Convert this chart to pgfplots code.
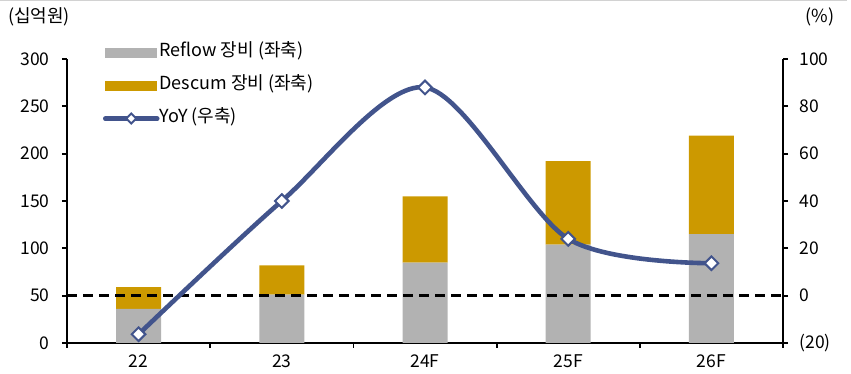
\documentclass[border=0pt]{standalone}
\usepackage{pgfplots}
\pgfplotsset{compat=1.18}
\usepackage{fontspec}
\setmainfont{Noto Sans CJK KR}
\definecolor{reflow}{RGB}{178,178,178}
\definecolor{descum}{RGB}{204,153,0}
\definecolor{yoy}{RGB}{66,84,140}
\begin{document}
\begin{tikzpicture}[font=\fontsize{18}{21}\selectfont]
\pgfplotsset{
  base/.style={
    width=716pt, height=284pt, scale only axis,
    xmin=-0.5, xmax=4.5,
    tick align=outside, major tick length=5pt, minor tick length=5pt,
    every tick/.style={black, line width=1.8pt},
    axis line style={black, line width=2.2pt},
    /pgf/number format/assume math mode=true,
    tick label style={font=\fontsize{17.5}{20}\selectfont},
    xticklabel style={yshift=-3pt},
  }
}
% stacked equipment sales, left axis
\begin{axis}[base,
  ymin=0, ymax=300, ytick={0,50,...,300},
  yticklabel style={xshift=-9pt},
  axis x line*=bottom, axis y line*=left,
  xtick={0,...,4}, xticklabels={22,23,24F,25F,26F},
  major x tick style={draw=none},
  minor xtick={-0.5,0.5,...,4.5},
  ybar stacked, bar width=45pt,
  legend cell align=left,
  legend style={at={(axis description cs:0.05,1.055)}, anchor=north west,
    draw=none, fill=none, inner sep=0pt, row sep=15pt,
    nodes={inner sep=0pt, text height=13pt, text depth=5pt, anchor=west},
    /tikz/every even column/.append style={column sep=5pt}},
]
\addplot[fill=reflow, draw=none,
  legend image code/.code={\fill[reflow] (0pt,-5pt) rectangle (52pt,5pt);}]
  coordinates {(0,36) (1,51) (2,85) (3,104) (4,115)};
\addlegendentry{Reflow 장비 (좌축)}
\addplot[fill=descum, draw=none,
  legend image code/.code={\fill[descum] (0pt,-5pt) rectangle (52pt,5pt);}]
  coordinates {(0,23) (1,31) (2,70) (3,88) (4,104)};
\addlegendentry{Descum 장비 (좌축)}
\addlegendimage{legend image code/.code={
  \draw[yoy, line width=4.5pt, line cap=round] (0pt,0pt) -- (52pt,0pt);
  \draw[yoy, fill=white, line width=2pt] (26pt,5pt) -- (31pt,0pt) -- (26pt,-5pt) -- (21pt,0pt) -- cycle;}}
\addlegendentry{YoY (우축)}
\end{axis}
% growth rate, right axis
\begin{axis}[base,
  ymin=-20, ymax=100, ytick={-20,0,...,100},
  yticklabels={(20),0,20,40,60,80,100},
  yticklabel style={xshift=8pt},
  axis x line=none, axis y line*=right,
]
\addplot[black, line width=2.4pt, dash pattern=on 10pt off 6pt]
  coordinates {(-0.5,0) (4.5,0)};
\addplot[yoy, line width=4.6pt, smooth, tension=0.5,
  mark=square*, mark size=4.8pt,
  mark options={rotate=45, fill=white, draw=yoy, line width=2pt, solid}]
  coordinates {(0,-16.3) (1,40) (2,88) (3,24) (4,13.7)};
\end{axis}
\draw[gray!35, line width=1.5pt] (-67pt,342.5pt) -- (780pt,342.5pt);
\node[anchor=west, inner sep=0pt] at (-59pt,326pt) {(십억원)};
\node[inner sep=0pt] at (753pt,326pt) {(\%)};
\pgfresetboundingbox
\path[use as bounding box] (-67pt,-31pt) rectangle (784pt,343pt);
\end{tikzpicture}
\end{document}
